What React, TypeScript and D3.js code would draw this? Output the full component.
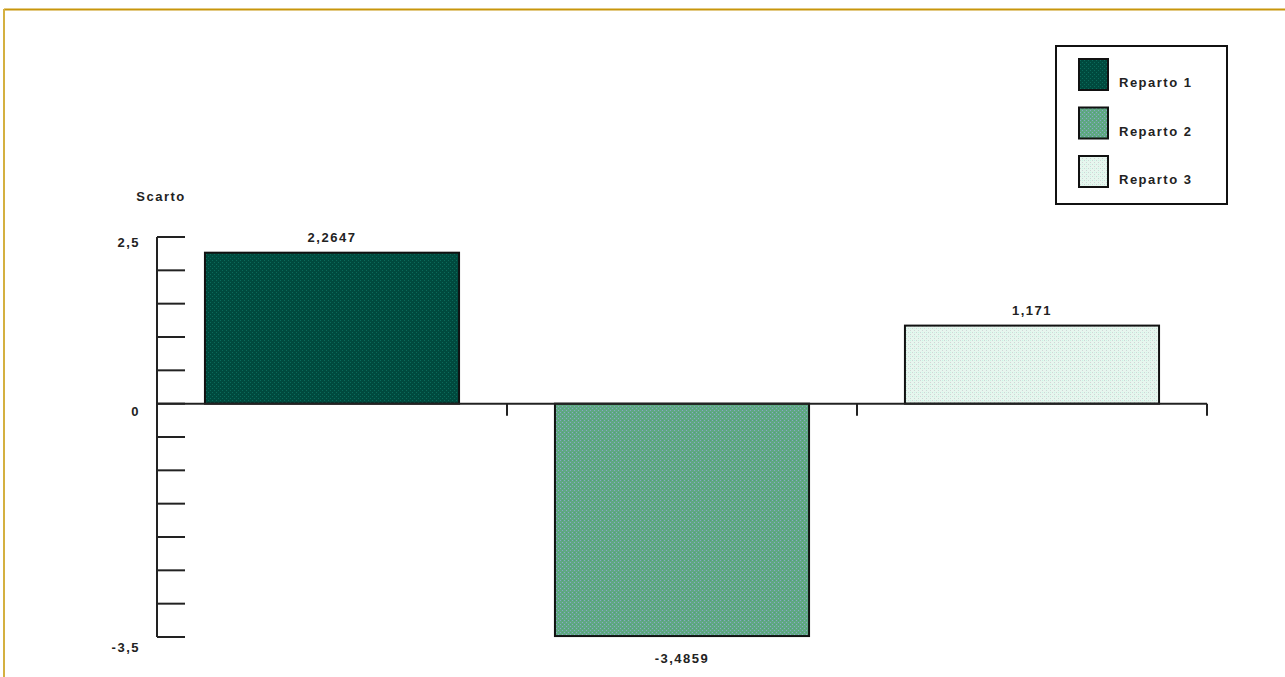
import React from "react";
import * as d3 from "d3";

const categories = ["Reparto 1", "Reparto 2", "Reparto 3"];
const values = [2.2647, -3.4859, 1.171];
const valueLabels = ["2,2647", "-3,4859", "1,171"];
const tickLabelValues = [2.5, 0, -3.5];
const tickLabelTexts = ["2,5", "0", "-3,5"];
const yTitle = "Scarto";

const W = 1285;
const H = 677;

const fills = ["url(#p1)", "url(#p2)", "url(#p3)"];

export default function App() {
  const y = d3.scaleLinear().domain([-3.5, 2.5]).range([637, 237]);
  const x = d3
    .scaleBand<string>()
    .domain(categories)
    .range([157, 1207])
    .paddingInner(0.274)
    .paddingOuter(0.137);
  const minorTicks = d3.range(-3.5, 2.5001, 0.5);
  const gap = (x.step() - x.bandwidth()) / 2;
  const font = "'Liberation Sans', Arial, sans-serif";
  const textStyle = { fontFamily: font, fontSize: 13, fontWeight: 700, letterSpacing: 1.5 } as const;

  return (
    <svg width={W} height={H} style={{ position: "absolute", left: 0, top: 0, background: "#fff" }}>
      <defs>
        <pattern id="p1" width="4" height="4" patternUnits="userSpaceOnUse">
          <rect width="4" height="4" fill="#004a3e" />
          <rect x="0" y="0" width="1" height="1" fill="#0b6a5a" />
          <rect x="2" y="2" width="1" height="1" fill="#0b6a5a" />
        </pattern>
        <pattern id="p2" width="4" height="4" patternUnits="userSpaceOnUse">
          <rect width="4" height="4" fill="#5fa882" />
          <rect x="0" y="0" width="1" height="1" fill="#8aa8c8" />
          <rect x="2" y="2" width="1" height="1" fill="#8aa8c8" />
          <rect x="2" y="0" width="1" height="1" fill="#52a07a" />
        </pattern>
        <pattern id="p3" width="4" height="4" patternUnits="userSpaceOnUse">
          <rect width="4" height="4" fill="#e6f6ee" />
          <rect x="0" y="0" width="1" height="1" fill="#cfd6d6" />
          <rect x="2" y="2" width="1" height="1" fill="#cfd6d6" />
          <rect x="2" y="0" width="1" height="1" fill="#c8f4e4" />
        </pattern>
      </defs>

      {/* frame */}
      <line x1={4} y1={9.5} x2={W} y2={9.5} stroke="#c8960c" strokeWidth={2} />
      <line x1={4} y1={9} x2={4} y2={H} stroke="#d4b040" strokeWidth={2} />

      {/* bars */}
      {categories.map((c, i) => {
        const v = values[i];
        const top = y(Math.max(0, v));
        const bot = y(Math.min(0, v));
        return (
          <rect
            key={c}
            x={x(c)}
            y={top}
            width={x.bandwidth()}
            height={bot - top}
            fill={fills[i]}
            stroke="#111"
            strokeWidth={2}
          />
        );
      })}

      {/* y axis */}
      <line x1={157} y1={y(2.5)} x2={157} y2={y(-3.5)} stroke="#222" strokeWidth={2} />
      {minorTicks.map((t) => (
        <line key={t} x1={157} x2={185} y1={y(t)} y2={y(t)} stroke="#222" strokeWidth={2} />
      ))}
      {tickLabelValues.map((t, i) => (
        <text
          key={t}
          x={140}
          y={y(t) + (t === 0 ? 12 : t > 0 ? 10 : 15)}
          textAnchor="end"
          style={textStyle}
          fill="#222"
        >
          {tickLabelTexts[i]}
        </text>
      ))}
      <text x={161} y={201} textAnchor="middle" style={textStyle} fill="#222">
        {yTitle}
      </text>

      {/* x axis */}
      <line x1={157} x2={1207} y1={y(0)} y2={y(0)} stroke="#222" strokeWidth={2} />
      {categories.map((c) => {
        const bx = (x(c) as number) + x.bandwidth() + gap;
        return <line key={c} x1={bx} x2={bx} y1={y(0)} y2={y(0) + 12} stroke="#222" strokeWidth={2} />;
      })}

      {/* value labels */}
      {categories.map((c, i) => {
        const v = values[i];
        const cx = (x(c) as number) + x.bandwidth() / 2;
        const ly = v >= 0 ? y(v) - 11 : y(v) + 27;
        return (
          <text key={c} x={cx} y={ly} textAnchor="middle" style={textStyle} fill="#222">
            {valueLabels[i]}
          </text>
        );
      })}

      {/* legend */}
      <rect x={1056} y={46} width={171} height={158} fill="#fff" stroke="#111" strokeWidth={2} />
      {categories.map((c, i) => {
        const sy = 59 + i * 48.5;
        return (
          <g key={c}>
            <rect x={1079} y={sy} width={29} height={31} fill={fills[i]} stroke="#111" strokeWidth={2} />
            <text x={1119} y={sy + 28} style={textStyle} fill="#222">
              {c}
            </text>
          </g>
        );
      })}
    </svg>
  );
}
